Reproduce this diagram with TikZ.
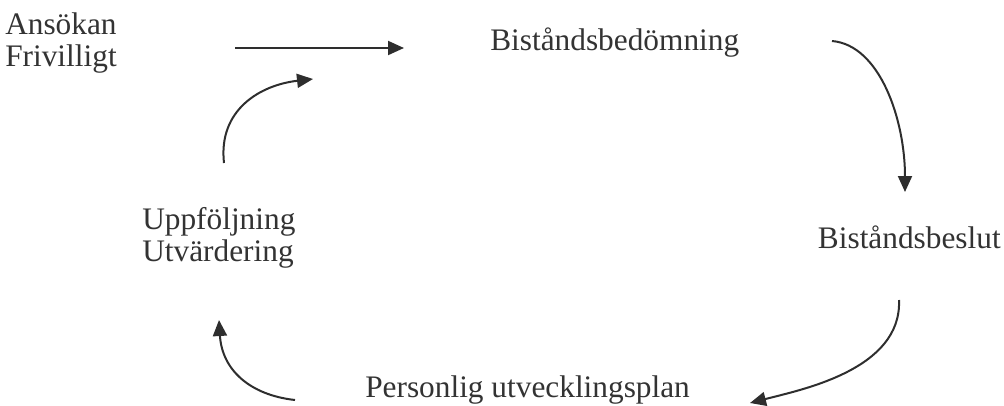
\documentclass[tikz,border=0pt]{standalone}
\usepackage{fontspec}
\setmainfont{Liberation Serif}
\usetikzlibrary{arrows.meta}
\begin{document}
\begin{tikzpicture}[x=0.75pt,y=-0.75pt,
  lbl/.style={inner sep=0pt, font=\fontsize{23.5}{24}\selectfont, align=left, text=black!80},
  arr/.style={line width=1.5pt, draw=black!82, -{Triangle[length=12pt,width=10.5pt]}}]
\useasboundingbox (0,0) rectangle (1004,405);
\node[lbl, anchor=base west] (ans) at (5,66) {Ansökan\\Frivilligt};
\node[lbl, anchor=base west] (bed) at (490,50) {Biståndsbedömning};
\node[lbl, anchor=base east] (bes) at (1001,248) {Biståndsbeslut};
\node[lbl, anchor=base west] (upp) at (142,261) {Uppföljning\\Utvärdering};
\node[lbl, anchor=base west] (pup) at (365,397) {Personlig utvecklingsplan};
\coordinate (a1) at (235,48);
\coordinate (a2) at (404,48);
\coordinate (b1) at (832,41);
\coordinate (b2) at (905,192);
\coordinate (c1) at (899,300);
\coordinate (c2) at (750,403);
\coordinate (d1) at (295,400);
\coordinate (d2) at (219,320);
\coordinate (e1) at (224,163);
\coordinate (e2) at (313,79);
\draw[arr] (a1) -- (a2);
\draw[arr] (b1) .. controls (880,45) and (905,120) .. (b2);
\draw[arr] (c1) .. controls (902,370) and (800,390) .. (c2);
\draw[arr] (d1) .. controls (250,395) and (222,370) .. (d2);
\draw[arr] (e1) .. controls (218,110) and (260,85) .. (e2);
\end{tikzpicture}
\end{document}
